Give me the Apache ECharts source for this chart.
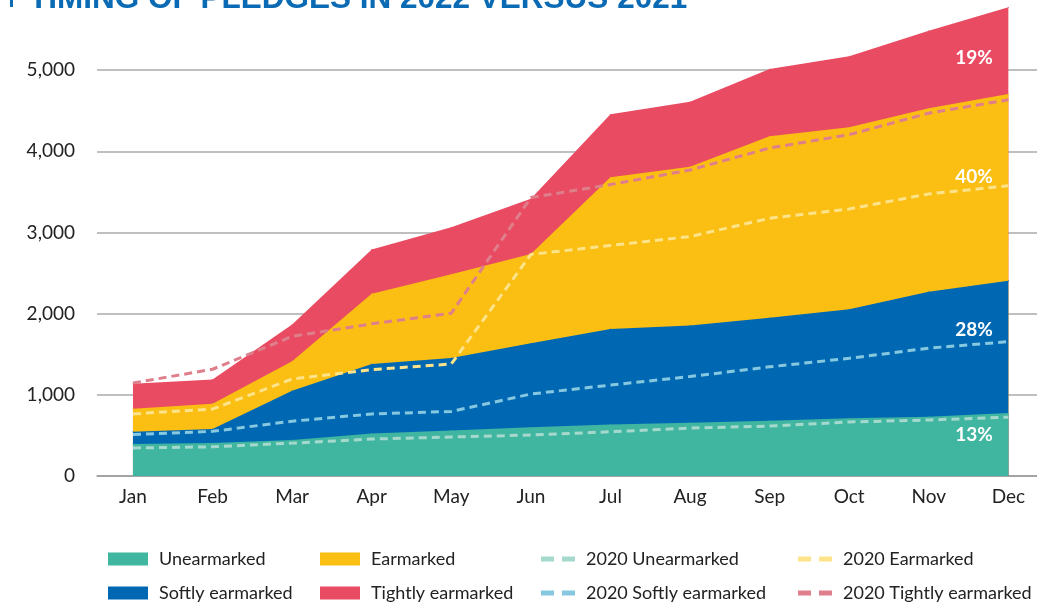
<!DOCTYPE html>
<html>
<head>
<meta charset="utf-8">
<script src="https://cdn.jsdelivr.net/npm/echarts@6/dist/echarts.min.js"></script>
<style>
  html, body { margin: 0; padding: 0; background: #fff; }
  #box { width: 1037px; height: 605px; }
</style>
</head>
<body>
<div id="box"></div>
<script>
var months = ['Jan', 'Feb', 'Mar', 'Apr', 'May', 'Jun', 'Jul', 'Aug', 'Sep', 'Oct', 'Nov', 'Dec'];
var yTicks = [0, 1000, 2000, 3000, 4000, 5000];

// 2022 (stacked areas)
var unearmarked = [395, 405, 445, 525, 560, 600, 635, 655, 680, 710, 730, 775];
var softly = [150, 175, 605, 855, 895, 1035, 1175, 1200, 1270, 1345, 1540, 1630];
var earmarked = [285, 310, 365, 865, 1030, 1100, 1870, 1955, 2235, 2240, 2260, 2300];
var tightly = [305, 300, 450, 545, 580, 680, 775, 800, 830, 875, 955, 1070];

// 2020 (stacked dashed lines)
var unearmarked2020 = [345, 360, 405, 455, 480, 505, 545, 590, 615, 665, 690, 725];
var softly2020 = [165, 190, 270, 310, 315, 505, 575, 635, 730, 785, 885, 930];
var earmarked2020 = [255, 275, 520, 545, 585, 1720, 1720, 1725, 1830, 1840, 1900, 1920];
var tightly2020 = [380, 490, 525, 565, 625, 700, 750, 820, 865, 915, 995, 1060];

// share of December total
var decShare = ['13%', '28%', '40%', '19%'];

var FONT = 'Lato';

// running totals, so each layer sits on the ones below it
function cumulate(layers) {
    var out = [];
    var run = layers[0].map(function () { return 0; });
    layers.forEach(function (arr) {
        run = run.map(function (s, i) { return s + arr[i]; });
        out.push(run.slice());
    });
    return out;
}

var top2022 = cumulate([unearmarked, softly, earmarked, tightly]);
var top2020 = cumulate([unearmarked2020, softly2020, earmarked2020, tightly2020]);

function toPoints(arr, share, dy) {
    return arr.map(function (v, i) {
        var p = { value: [i, v] };
        if (share && i === arr.length - 1) {
            p.label = {
                show: true,
                formatter: share,
                position: 'left',
                distance: 15,
                offset: [0, dy],
                color: '#fff',
                fontFamily: FONT,
                fontWeight: 'bold',
                fontSize: 19
            };
        }
        return p;
    });
}

function area(name, arr, color, share, dy, z) {
    return {
        name: name,
        type: 'line',
        symbol: 'circle',
        symbolSize: 1,
        showSymbol: true,
        lineStyle: { width: 0 },
        itemStyle: { color: color },
        areaStyle: { color: color, opacity: 1 },
        data: toPoints(arr, share, dy),
        z: z
    };
}

function dashed(name, arr, color) {
    return {
        name: name,
        type: 'line',
        symbol: 'none',
        itemStyle: { color: color },
        lineStyle: { color: color, width: 3, type: [8, 5] },
        data: toPoints(arr),
        z: 10
    };
}

var myChart = echarts.init(document.getElementById('box'));

var legendText = { color: '#222', fontFamily: FONT, fontSize: 18, lineHeight: 20, padding: [0, 0, 0, 6] };

function legendCol(left, names, isLine) {
    return {
        orient: 'vertical',
        left: left,
        top: 549,
        height: 120,
        padding: 0,
        itemGap: 14,
        itemWidth: isLine ? 34 : 40,
        itemHeight: isLine ? 5 : 13,
        icon: isLine ? 'path://M0,0h13v5h-13z M21,0h13v5h-13z' : 'rect',
        textStyle: legendText,
        data: names
    };
}

myChart.setOption({
    animation: false,
    title: {
        text: 'TIMING OF PLEDGES IN 2022 VERSUS 2021',
        left: 24,
        top: -22,
        textStyle: { color: '#0a6ab3', fontFamily: 'Liberation Sans', fontWeight: 'bold', fontSize: 31.5 }
    },
    graphic: [{
        type: 'rect',
        left: 10,
        top: -4,
        shape: { width: 3, height: 11 },
        style: { fill: '#0a6ab3' }
    }],
    legend: [
        legendCol(108, ['Unearmarked', 'Softly earmarked'], false),
        legendCol(320, ['Earmarked', 'Tightly earmarked'], false),
        legendCol(541, ['2020 Unearmarked', '2020 Softly earmarked'], true),
        legendCol(798, ['2020 Earmarked', '2020 Tightly earmarked'], true)
    ],
    grid: { left: 97, right: 0, top: 0, bottom: 129 },
    xAxis: {
        type: 'value',
        min: -0.452,
        max: 11.36,
        splitLine: { show: false },
        axisTick: { show: false },
        axisLine: { show: true, lineStyle: { color: '#9a9a9a', width: 1.5 } },
        axisLabel: {
            customValues: months.map(function (m, i) { return i; }),
            formatter: function (v) { return months[Math.round(v)]; },
            color: '#222',
            fontFamily: FONT,
            fontSize: 19,
            margin: 11
        }
    },
    yAxis: {
        type: 'value',
        min: 0,
        max: 5864,
        interval: 1000,
        axisLine: { show: false },
        axisTick: { show: false },
        splitLine: { showMaxLine: false, lineStyle: { color: '#aaaaaa', width: 1.5 } },
        axisLabel: {
            customValues: yTicks,
            formatter: function (v) { return v.toLocaleString('en-US'); },
            color: '#222',
            fontFamily: FONT,
            fontSize: 19,
            margin: 22
        }
    },
    series: [
        // tallest layer first so the lower ones paint over it
        area('Tightly earmarked', top2022[3], '#e94b62', decShare[3], 51, 2),
        area('Earmarked', top2022[2], '#fbbe13', decShare[2], 83, 3),
        area('Softly earmarked', top2022[1], '#0068b3', decShare[1], 49, 4),
        area('Unearmarked', top2022[0], '#40b5a0', decShare[0], 22, 5),
        dashed('2020 Unearmarked', top2020[0], '#a6d9cd'),
        dashed('2020 Softly earmarked', top2020[1], '#86c8df'),
        dashed('2020 Earmarked', top2020[2], '#fde38a'),
        dashed('2020 Tightly earmarked', top2020[3], '#df7f8c')
    ]
});
</script>
</body>
</html>
